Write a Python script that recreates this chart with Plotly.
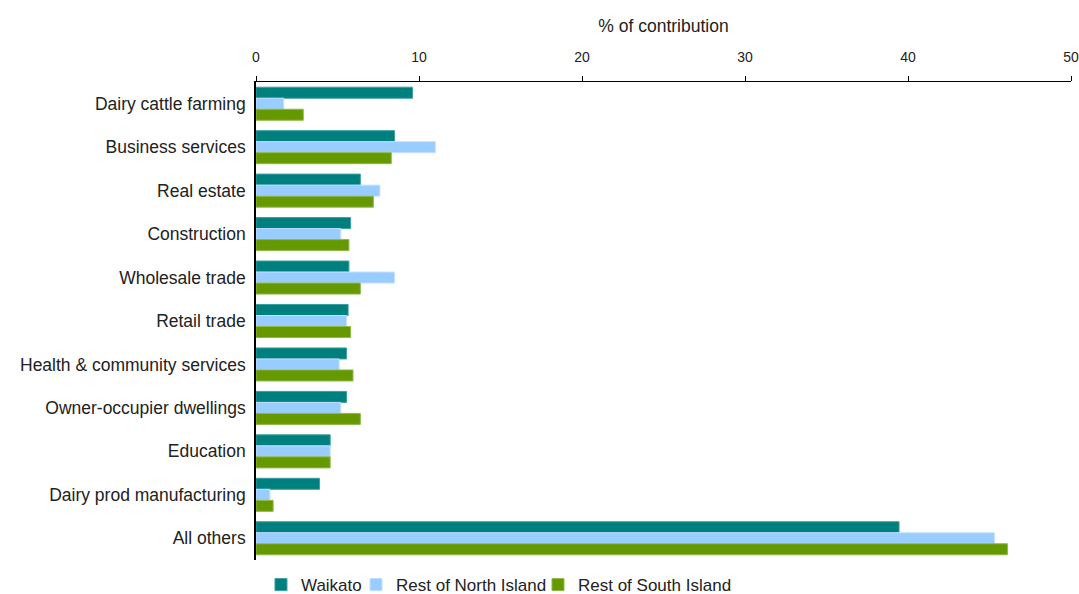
import plotly.graph_objects as go

categories = ["Dairy cattle farming", "Business services", "Real estate", "Construction",
              "Wholesale trade", "Retail trade", "Health & community services",
              "Owner-occupier dwellings", "Education", "Dairy prod manufacturing", "All others"]
waikato = [9.6, 8.5, 6.4, 5.8, 5.7, 5.65, 5.55, 5.55, 4.55, 3.9, 39.45]
rest_north = [1.7, 11.0, 7.6, 5.2, 8.5, 5.55, 5.1, 5.2, 4.55, 0.85, 45.3]
rest_south = [2.9, 8.3, 7.2, 5.7, 6.4, 5.8, 5.95, 6.4, 4.55, 1.05, 46.1]
x_ticks = [0, 10, 20, 30, 40, 50]

series = [
    ("Waikato", waikato, "#007F7F", "#3A9E9E", "legend", 0.0061),
    ("Rest of North Island", rest_north, "#99CCFF", "#C2E0FF", "legend2", 0.1227),
    ("Rest of South Island", rest_south, "#669900", "#8DB84A", "legend3", 0.3460),
]

fig = go.Figure()
legend_layouts = {}
for name, vals, col, edge, leg, lx in series:
    fig.add_trace(go.Bar(
        y=categories, x=vals, name=name, orientation="h", legend=leg,
        marker=dict(color=col, line=dict(color=edge, width=1)),
    ))
    legend_layouts[leg] = dict(orientation="h", x=lx, xanchor="left", y=-0.0524,
                               yanchor="middle", font=dict(size=17),
                               bgcolor="rgba(0,0,0,0)")

fig.update_layout(
    width=1079, height=594,
    margin=dict(l=256, r=8, t=82, b=34, autoexpand=False),
    paper_bgcolor="white", plot_bgcolor="white",
    barmode="group", bargap=0.24, bargroupgap=0,
    font=dict(family="Liberation Sans, Arial, sans-serif", color="#222222", size=17.5),
    showlegend=True,
    **legend_layouts,
)
fig.update_xaxes(
    side="top", range=[0, 50], tickvals=x_ticks, ticktext=[str(t) for t in x_ticks],
    showgrid=False, zeroline=False, showline=True, linecolor="black", linewidth=1,
    ticks="outside", ticklen=5, tickcolor="black", tickfont=dict(size=14),
    ticklabelstandoff=8, automargin=False,
    title=dict(text="% of contribution", font=dict(size=17.5), standoff=12),
)
fig.update_yaxes(
    autorange="reversed", showgrid=False, zeroline=False, showline=True,
    linecolor="black", linewidth=2, ticks="", tickfont=dict(size=17.5), ticksuffix=" ",
    automargin=False,
)

fig.write_html("out.html", config={"displayModeBar": False},
               post_script="document.body.style.margin='0';document.body.style.overflow='hidden';")
